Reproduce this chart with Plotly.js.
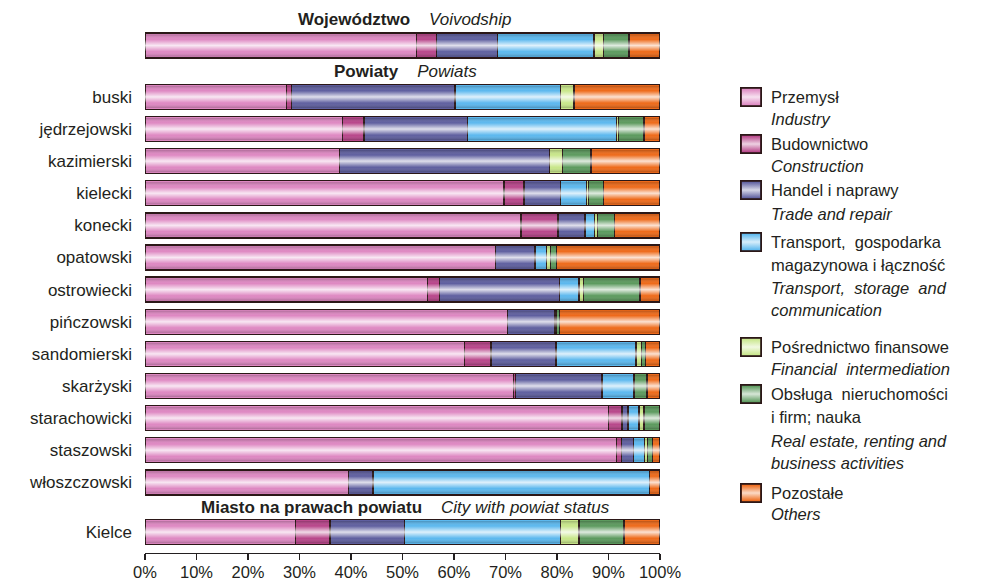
<!DOCTYPE html>
<html>
<head>
<meta charset="utf-8">
<script src="https://cdn.plot.ly/plotly-3.0.1.min.js"></script>
<style>html,body{margin:0;padding:0;background:#fff;}#chart{width:992px;height:582px;}</style>
</head>
<body>
<div id="chart"></div>
<script>
// ---- DATA ----
const categories = ['Województwo','buski','jędrzejowski','kazimierski','kielecki','konecki','opatowski','ostrowiecki','pińczowski','sandomierski','skarżyski','starachowicki','staszowski','włoszczowski','Kielce'];
const tickLabels = ['','buski','jędrzejowski','kazimierski','kielecki','konecki','opatowski','ostrowiecki','pińczowski','sandomierski','skarżyski','starachowicki','staszowski','włoszczowski','Kielce'];
const industry     = [52.7,27.5,38.4,37.8,69.7,73.0,68.1,54.8,70.4,62.0,71.5,90.0,91.6,39.5,29.2];
const construction = [ 3.9, 0.9, 4.1, 0.0, 3.9, 7.2, 0.0, 2.4, 0.0, 5.2, 0.4, 2.6, 0.9, 0.0, 6.7];
const trade        = [11.8,31.8,20.1,40.7, 7.1, 5.2, 7.6,23.3, 9.1,12.6,16.8, 1.2, 2.4, 4.8,14.5];
const transport    = [18.8,20.5,28.9, 0.0, 5.0, 1.9, 2.3, 3.8, 0.0,15.5, 6.1, 2.1, 2.1,53.7,30.3];
const financial    = [ 1.8, 2.6, 0.4, 2.6, 0.4, 0.6, 0.7, 0.8, 0.3, 1.1, 0.2, 1.0, 0.6, 0.0, 3.6];
const realEstate   = [ 5.0, 0.0, 5.0, 5.5, 2.9, 3.3, 1.2,11.0, 0.7, 0.8, 2.5, 3.1, 0.9, 0.0, 8.7];
const others       = [ 6.0,16.7, 3.1,13.4,11.0, 8.8,20.1, 3.9,19.5, 2.8, 2.5, 0.0, 1.5, 2.0, 7.0];
const seriesPl = ['Przemysł','Budownictwo','Handel i naprawy','Transport, gospodarka','Pośrednictwo finansowe','Obsługa nieruchomości','Pozostałe'];
const headers = [['Województwo','Voivodship'],['Powiaty','Powiats'],['Miasto na prawach powiatu','City with powiat status']];

// ---- STYLE / LAYOUT ----
const series = [industry,construction,trade,transport,financial,realEstate,others];
const colors = ['#de88c2','#b8468a','#5f5f9f','#5cb8ee','#c8e68a','#5c9a5e','#ee6a1a'];
const FONT = 'Liberation Sans, Arial, sans-serif';
const TXT = '#231f20';
const L = 145, R = 332, T = 28, B = 29, W = 992 - L - R, H = 582 - T - B;
const px2x = p => (p - L) / W;
const py2y = p => (T + H - p) / H;

// row positions: group gaps between voivodship / powiats / city
const pos = categories.map((c, i) => i + (i >= 1 ? 0.6 : 0) + (i >= 14 ? 0.55 : 0));
const barW = 0.78;
const yRange = [15.80, -0.545];
const y2paper = v => (yRange[0] - v) / (yRange[0] - yRange[1]);

const traces = series.map((vals, k) => ({
  type: 'bar', orientation: 'h', name: seriesPl[k],
  x: vals, y: pos, width: barW,
  marker: {color: colors[k], line: {color: '#2b1717', width: 1.4}},
  hoverinfo: 'x+name'
}));

function svgURI(svg){ return 'data:image/svg+xml;base64,' + btoa(unescape(encodeURIComponent(svg))); }
const shine = svgURI('<svg xmlns="http://www.w3.org/2000/svg" width="100" height="100" preserveAspectRatio="none"><defs><linearGradient id="g" x1="0" y1="0" x2="0" y2="1"><stop offset="0" stop-color="#000" stop-opacity="0.22"/><stop offset="0.22" stop-color="#fff" stop-opacity="0"/><stop offset="0.5" stop-color="#fff" stop-opacity="0.8"/><stop offset="0.78" stop-color="#fff" stop-opacity="0"/><stop offset="1" stop-color="#000" stop-opacity="0.22"/></linearGradient></defs><rect x="0" y="6" width="100" height="88" fill="url(#g)"/></svg>');

const images = [];
pos.forEach((p, i) => {
  const tot = series.reduce((s, a) => s + a[i], 0);
  images.push({source: shine, xref: 'x', yref: 'y', x: 0, y: p, xanchor: 'left', yanchor: 'middle',
    sizex: tot, sizey: barW, sizing: 'stretch', layer: 'above'});
});

// legend (manual)
const legendItems = [
  {lines: [['Przemysł',0],['Industry',1]], y: [97,119]},
  {lines: [['Budownictwo',0],['Construction',1]], y: [144,166]},
  {lines: [['Handel i naprawy',0],['Trade and repair',1]], y: [190,214]},
  {lines: [['Transport,  gospodarka',0],['magazynowa i łączność',0],['Transport,  storage  and',1],['communication',1]], y: [242,265,288,310]},
  {lines: [['Pośrednictwo finansowe',0],['Financial  intermediation',1]], y: [347,369]},
  {lines: [['Obsługa  nieruchomości',0],['i firm; nauka',0],['Real estate, renting and',1],['business activities',1]], y: [394,417,441,463]},
  {lines: [['Pozostałe',0],['Others',1]], y: [493,514]}
];
const annotations = [];
legendItems.forEach((it, k) => {
  it.lines.forEach((ln, j) => {
    annotations.push({xref: 'paper', yref: 'paper', x: px2x(769), y: py2y(it.y[j]), xanchor: 'left', yanchor: 'middle',
      text: ln[1] ? '<i>' + ln[0] + '</i>' : ln[0], showarrow: false, font: {family: FONT, size: 16.5, color: TXT}});
  });
  const sw = svgURI('<svg xmlns="http://www.w3.org/2000/svg" width="22" height="20"><defs><linearGradient id="g" x1="0" y1="0" x2="0" y2="1"><stop offset="0" stop-color="' + colors[k] + '"/><stop offset="0.5" stop-color="#fff"/><stop offset="1" stop-color="' + colors[k] + '"/></linearGradient></defs><rect x="0.9" y="0.9" width="20.2" height="18.2" fill="' + colors[k] + '" stroke="#2b1717" stroke-width="1.8"/><rect x="2" y="2" width="18" height="16" fill="url(#g)" opacity="0.75"/></svg>');
  images.push({source: sw, xref: 'paper', yref: 'paper', x: px2x(740), y: py2y(it.y[0] - 10), xanchor: 'left', yanchor: 'top',
    sizex: 22 / W, sizey: 20 / H, sizing: 'stretch', layer: 'above'});
});

// group headers
const headerY = [pos[0] - 0.8, (pos[0] + pos[1]) / 2, (pos[13] + pos[14]) / 2];
headers.forEach((h, i) => {
  annotations.push({xref: 'x', yref: 'paper', x: 50.5, y: y2paper(headerY[i]), xanchor: 'center', yanchor: 'middle', showarrow: false,
    text: '<b>' + h[0] + '</b>    <i>' + h[1] + '</i>', font: {family: FONT, size: 17, color: TXT}});
});

const layout = {
  width: 992, height: 582,
  margin: {l: L, r: R, t: T, b: B, pad: 0},
  paper_bgcolor: '#fff', plot_bgcolor: '#fff',
  barmode: 'stack', showlegend: false,
  font: {family: FONT, color: TXT},
  xaxis: {range: [0, 100], dtick: 10, tick0: 0, ticksuffix: '%', showgrid: false, zeroline: false,
    showline: true, linecolor: '#231f20', linewidth: 1.2, ticks: 'outside', ticklen: 6, tickwidth: 1.2, tickcolor: '#231f20',
    ticklabelstandoff: -2,
    tickfont: {family: FONT, size: 16.5, color: TXT}, fixedrange: true},
  yaxis: {range: yRange, tickvals: pos, ticktext: tickLabels, showgrid: false, zeroline: false, showline: false,
    ticks: '', ticklabelstandoff: 12, tickfont: {family: FONT, size: 17, color: TXT}, fixedrange: true},
  annotations: annotations, images: images
};

Plotly.newPlot('chart', traces, layout, {staticPlot: true});
</script>
</body>
</html>
